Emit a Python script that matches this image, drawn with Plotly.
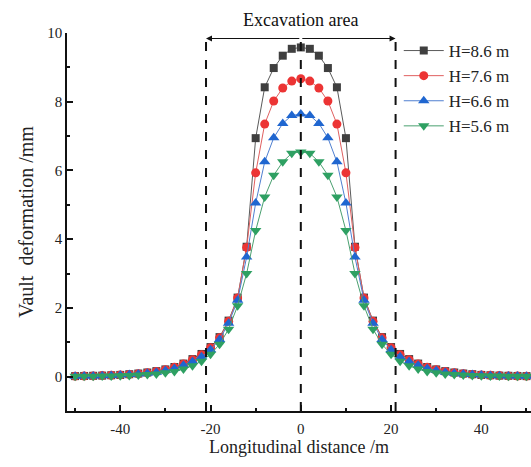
import plotly.graph_objects as go

# distancia longitudinal (m), metade direita; a curva é simétrica
half_x = list(range(0, 52, 2))

# deformação do arco (mm) para x = 0, 2, 4 ... 50
h86 = [9.58, 9.54, 9.34, 8.98, 8.42, 6.94, 3.78, 2.30, 1.63, 1.15, 0.86, 0.66, 0.51,
       0.38, 0.28, 0.21, 0.16, 0.12, 0.09, 0.07, 0.05, 0.04, 0.03, 0.025, 0.02, 0.015]
h76 = [8.67, 8.60, 8.40, 8.02, 7.35, 5.93, 3.76, 2.29, 1.61, 1.13, 0.84, 0.64, 0.49,
       0.37, 0.27, 0.20, 0.15, 0.11, 0.085, 0.065, 0.05, 0.04, 0.03, 0.022, 0.018, 0.014]
h66 = [7.64, 7.60, 7.37, 6.95, 6.25, 5.05, 3.48, 2.22, 1.55, 1.08, 0.78, 0.58, 0.44,
       0.33, 0.24, 0.18, 0.13, 0.10, 0.075, 0.06, 0.045, 0.035, 0.027, 0.02, 0.016, 0.012]
h56 = [6.54, 6.50, 6.25, 5.86, 5.23, 4.25, 3.00, 2.06, 1.38, 0.94, 0.65, 0.45, 0.32,
       0.22, 0.15, 0.11, 0.08, 0.06, 0.045, 0.035, 0.028, 0.022, 0.017, 0.013, 0.01, 0.008]

labels = ["H=8.6 m", "H=7.6 m", "H=6.6 m", "H=5.6 m"]
x_ticks = [-40, -20, 0, 20, 40]
x_ticktext = ["-40", "-20", "0", "20", "40"]
y_ticks = [0, 2, 4, 6, 8, 10]
zone = 21   # limite da área escavada (m)

FONT = "Liberation Serif"


def mirror(vals):
    return vals[:0:-1] + vals


xs = [-v for v in half_x[:0:-1]] + half_x

series = [
    (h86, "square", "#3f3f3f", "#5a5a5a", 8),
    (h76, "circle", "#ec3434", "#e06060", 9),
    (h66, "triangle-up", "#1f66d0", "#4f7fd0", 10),
    (h56, "triangle-down", "#2ea062", "#4aa070", 10),
]

fig = go.Figure()
for (vals, sym, col, lcol, sz), name in zip(series, labels):
    fig.add_trace(go.Scatter(
        x=xs, y=mirror(vals), name=name, mode="lines+markers",
        line=dict(color=lcol, width=1),
        marker=dict(symbol=sym, color=col, size=sz, line=dict(width=0)),
        cliponaxis=False,
    ))

shapes = [
    dict(type="line", x0=v, x1=v, y0=-1, y1=10, xref="x", yref="y",
         line=dict(color="#111", width=2, dash="dash"))
    for v in (-zone, 0, zone)
]

anns = [
    dict(x=zone, y=9.84, ax=0, ay=9.84, xref="x", yref="y", axref="x", ayref="y",
         text="", showarrow=True, arrowhead=2, arrowsize=1.2, arrowwidth=1,
         arrowcolor="#111"),
    dict(x=-zone, y=9.84, ax=0, ay=9.84, xref="x", yref="y", axref="x", ayref="y",
         text="", showarrow=True, arrowhead=2, arrowsize=1.2, arrowwidth=1,
         arrowcolor="#111"),
    dict(x=0, y=1.035, xref="x", yref="paper", text="Excavation area",
         showarrow=False, yanchor="middle",
         font=dict(family=FONT, size=18, color="#111")),
]

axis_common = dict(
    showline=True, linecolor="#111", linewidth=1.5, mirror=False,
    ticks="inside", ticklen=6, tickwidth=1.5, tickcolor="#111",
    showgrid=False, zeroline=False, automargin=False,
    tickfont=dict(family=FONT, size=15, color="#222"),
)

fig.update_layout(
    width=531, height=467,
    paper_bgcolor="white", plot_bgcolor="white",
    margin=dict(l=67, r=0, t=33, b=56),
    font=dict(family=FONT, color="#222"),
    shapes=shapes,
    annotations=anns,
    legend=dict(x=0.715, y=1.0, xanchor="left", yanchor="top",
                bgcolor="rgba(0,0,0,0)", tracegroupgap=0, itemwidth=40,
                font=dict(family=FONT, size=17, color="#222")),
    xaxis=dict(axis_common, range=[-51.8, 51.0], tickmode="array",
               tickvals=x_ticks, ticktext=x_ticktext, ticklabelstandoff=3,
               minor=dict(tickvals=[-50, -30, -10, 10, 30, 50], ticks="inside",
                          ticklen=3, tickwidth=1.5, tickcolor="#111"),
               title=dict(text="Longitudinal distance /m", standoff=4,
                          font=dict(family=FONT, size=18, color="#222"))),
    yaxis=dict(axis_common, range=[-1, 10], tickmode="array",
               tickvals=y_ticks,
               minor=dict(tickvals=[1, 3, 5, 7, 9], ticks="inside",
                          ticklen=3, tickwidth=1.5, tickcolor="#111"),
               title=dict(text="Vault  deformation /mm", standoff=8,
                          font=dict(family=FONT, size=20, color="#222"))),
)

# sem a margem padrão do <body>, o gráfico ocupa a janela toda
fig.write_html("out.html", config={"displayModeBar": False},
               post_script="document.body.style.margin='0';"
                           "document.body.style.overflow='hidden';")
